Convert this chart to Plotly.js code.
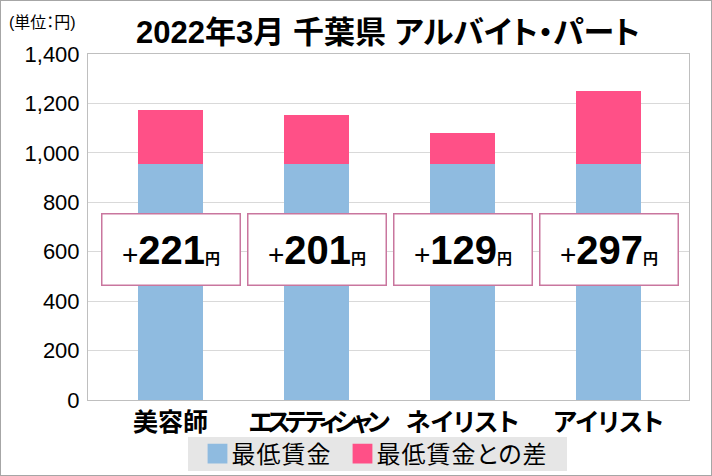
<!DOCTYPE html>
<html>
<head>
<meta charset="utf-8">
<script src="https://cdn.plot.ly/plotly-3.0.1.min.js"></script>
<style>
  body { margin: 0; }
  #chart { width: 712px; height: 476px; box-sizing: border-box; border: 1px solid #a6a6a6; }
  text { font-feature-settings: "palt"; }
  /* squeeze the long katakana label a bit */
  .xtick:nth-child(2) text { letter-spacing: -5.5px; }
  .legendtext { letter-spacing: 1px; }
  .legendpoints path { transform: translate(26px, 0) scale(1.65); }
  .legend > rect.bg { transform: translate(-3.5px, 5.5px); height: 34px; width: 379px; }
</style>
</head>
<body>
<div id="chart"></div>
<script>
// 2022年3月 千葉県 アルバイト・パート 時給（円）
var jobs = ["美容師", "エステティシャン", "ネイリスト", "アイリスト"];
var min_wage = [953, 953, 953, 953];
var diff = [221, 201, 129, 297];
var y_ticks = [0, 200, 400, 600, 800, 1000, 1200, 1400];
var y_labels = ["0", "200", "400", "600", "800", "1,000", "1,200", "1,400"];

var jp = "Liberation Sans, Noto Sans CJK JP, sans-serif";

var trace1 = {
  x: jobs,
  y: min_wage,
  name: "最低賃金",
  type: "bar",
  width: 0.445,
  marker: {color: "#8fbbe0"},
  hoverinfo: "skip"
};
var trace2 = {
  x: jobs,
  y: diff,
  name: "最低賃金との差",
  type: "bar",
  width: 0.445,
  marker: {color: "#ff5087"},
  hoverinfo: "skip"
};

// boxes with the difference
var notes = [];
for (let i = 0; i < jobs.length; i++) {
  notes.push({
    x: jobs[i],
    y: 609,
    xref: "x",
    yref: "y",
    showarrow: false,
    text: "<span style='font-size:28px'>+</span><b>" + diff[i] + "</b><b style='font-size:15px'>円</b>",
    font: {family: "Liberation Sans, Noto Sans CJK JP", size: 40, color: "#000"},
    bgcolor: "#ffffff",
    bordercolor: "#c9769e",
    borderwidth: 1.5,
    borderpad: 2,
    width: 133,
    height: 66,
    valign: "middle"
  });
}
// unit, top left
notes.push({
  x: (6 - 87) / 601,
  y: (399 - 21) / 346,
  xref: "paper",
  yref: "paper",
  xanchor: "left",
  yanchor: "middle",
  showarrow: false,
  text: "(単位：円)",
  font: {family: jp, size: 16, color: "#000"}
});

var layout = {
  width: 710,
  height: 474,
  margin: {l: 87, r: 22, t: 53, b: 75},
  paper_bgcolor: "#ffffff",
  plot_bgcolor: "#ffffff",
  barmode: "stack",
  title: {
    text: "<b>2022年3月 千葉県 アルバイト・パート</b>",
    font: {family: jp, size: 31, color: "#000"},
    x: 387 / 710,
    xanchor: "center",
    y: 1 - 31 / 474,
    yanchor: "middle"
  },
  xaxis: {
    type: "category",
    range: [-0.565, 3.551],
    tickangle: 0,
    showline: true,
    mirror: true,
    linecolor: "#bfbfbf",
    ticks: "",
    tickfont: {family: "Noto Sans CJK JP", size: 25, color: "#000", weight: "bold"},
    fixedrange: true
  },
  yaxis: {
    range: [0, 1400],
    tickvals: y_ticks,
    ticktext: y_labels,
    showline: true,
    mirror: true,
    linecolor: "#bfbfbf",
    gridcolor: "#d9d9d9",
    zeroline: false,
    ticks: "",
    ticklabelstandoff: 3,
    tickfont: {family: "Liberation Sans", size: 22, color: "#000"},
    fixedrange: true
  },
  legend: {
    orientation: "h",
    traceorder: "normal",
    xref: "container",
    yref: "container",
    x: 371.5 / 710,
    xanchor: "center",
    y: 1 - 430.5 / 474,
    yanchor: "top",
    bgcolor: "#e6e6e6",
    font: {family: "Noto Sans CJK JP", size: 24, color: "#000"},
    itemwidth: 30
  },
  annotations: notes
};

Plotly.newPlot("chart", [trace1, trace2], layout, {displayModeBar: false, staticPlot: true});
</script>
</body>
</html>
